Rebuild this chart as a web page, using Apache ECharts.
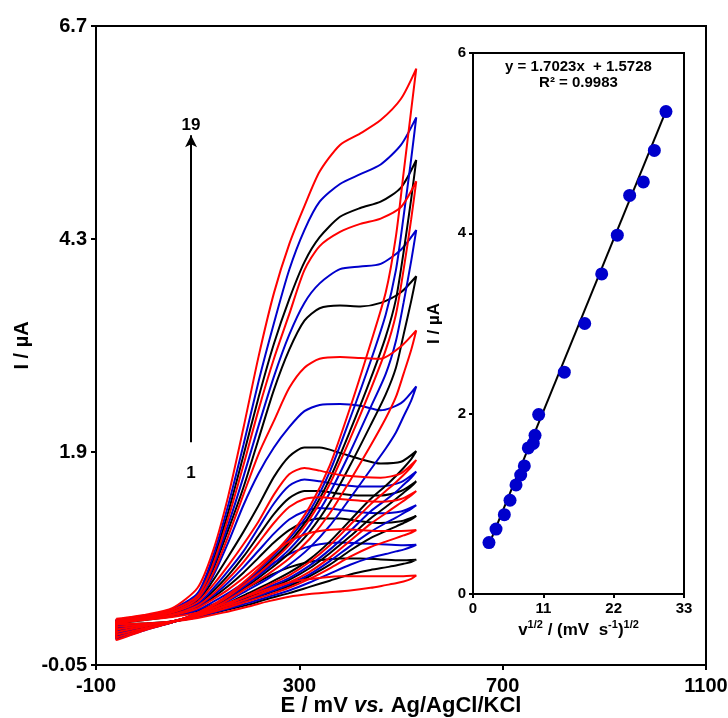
<!DOCTYPE html>
<html>
<head>
<meta charset="utf-8">
<script src="https://cdn.jsdelivr.net/npm/echarts@6/dist/echarts.min.js"></script>
<style>
html,body{margin:0;padding:0;background:#fff;}
#chart{width:728px;height:718px;}
</style>
</head>
<body>
<div id="chart"></div>
<script>
// ---------- main CV plot data ----------
const yTickLabels = ['-0.05', '1.9', '4.3', '6.7'];
const xTickLabels = ['-100', '300', '700', '1100'];
const curveColors = ['#FF0000', '#000000', '#0000CC'];

// potentials of forward (anodic) branch and reverse branch (mV)
const fwdE = [-60, 0, 50, 100, 130, 160, 190, 220, 250, 280, 310, 340, 380, 420, 460, 500, 530];
const revE = [520, 505, 490, 470, 440, 400, 360, 320, 280, 240, 200, 150, 100, 50, 0, -60];

// currents (µA) of forward branch, curve 1..19
const fwdI = [
  [-0.03,0.01,0.04,0.09,0.14,0.20,0.26,0.32,0.38,0.43,0.46,0.48,0.50,0.50,0.50,0.50,0.508],
  [-0.03,0.01,0.05,0.11,0.18,0.26,0.35,0.44,0.53,0.60,0.65,0.68,0.70,0.70,0.69,0.68,0.687],
  [-0.03,0.02,0.05,0.12,0.21,0.31,0.42,0.53,0.65,0.75,0.82,0.86,0.88,0.87,0.86,0.85,0.855],
  [-0.03,0.02,0.06,0.14,0.24,0.35,0.48,0.62,0.77,0.89,0.97,1.01,1.03,1.02,1.01,1.01,1.02],
  [-0.03,0.02,0.06,0.15,0.26,0.39,0.54,0.71,0.88,1.02,1.11,1.15,1.15,1.12,1.10,1.12,1.18],
  [-0.02,0.03,0.07,0.16,0.28,0.43,0.60,0.79,0.98,1.14,1.23,1.27,1.25,1.22,1.21,1.23,1.30],
  [-0.02,0.03,0.07,0.17,0.30,0.47,0.66,0.88,1.10,1.28,1.37,1.39,1.37,1.35,1.34,1.37,1.46],
  [-0.02,0.03,0.08,0.18,0.33,0.51,0.72,0.96,1.20,1.38,1.46,1.46,1.43,1.41,1.41,1.46,1.57],
  [-0.02,0.03,0.08,0.19,0.36,0.56,0.78,1.05,1.32,1.52,1.59,1.57,1.53,1.51,1.51,1.56,1.68],
  [-0.01,0.04,0.09,0.21,0.40,0.62,0.86,1.12,1.42,1.65,1.72,1.69,1.64,1.62,1.61,1.66,1.81],
  [-0.01,0.04,0.09,0.22,0.45,0.72,1.00,1.30,1.62,1.85,1.95,1.95,1.89,1.82,1.77,1.79,1.91],
  [-0.01,0.04,0.10,0.24,0.50,0.88,1.30,1.66,1.95,2.18,2.36,2.43,2.44,2.42,2.37,2.45,2.64],
  [0.00,0.04,0.10,0.25,0.53,0.95,1.42,1.88,2.25,2.62,2.85,2.95,2.97,2.96,2.95,3.09,3.27],
  [0.00,0.05,0.11,0.26,0.57,1.02,1.50,2.05,2.60,3.05,3.38,3.52,3.55,3.54,3.58,3.70,3.88],
  [0.00,0.05,0.11,0.27,0.60,1.08,1.62,2.20,2.75,3.22,3.58,3.80,3.96,3.99,4.02,4.18,4.40],
  [0.00,0.05,0.12,0.28,0.63,1.15,1.75,2.38,2.95,3.45,3.95,4.22,4.38,4.47,4.53,4.66,4.95],
  [0.01,0.06,0.12,0.29,0.67,1.22,1.86,2.52,3.12,3.62,4.04,4.32,4.55,4.65,4.72,4.88,5.19],
  [0.01,0.06,0.13,0.31,0.72,1.30,1.98,2.70,3.35,3.95,4.40,4.72,4.92,5.03,5.14,5.36,5.67],
  [0.02,0.07,0.14,0.37,0.78,1.40,2.17,2.98,3.69,4.24,4.67,5.06,5.36,5.49,5.64,5.88,6.22]
];

// currents (µA) of reverse branch, curve 1..19
const revI = [
  [0.47,0.44,0.42,0.40,0.37,0.34,0.32,0.30,0.27,0.22,0.16,0.09,0.03,-0.01,-0.03,-0.04],
  [0.66,0.64,0.62,0.60,0.57,0.52,0.45,0.38,0.31,0.25,0.18,0.11,0.04,-0.01,-0.03,-0.05],
  [0.83,0.80,0.78,0.75,0.71,0.63,0.53,0.43,0.34,0.27,0.20,0.12,0.04,-0.01,-0.04,-0.06],
  [0.99,0.96,0.93,0.89,0.83,0.72,0.59,0.47,0.37,0.29,0.22,0.13,0.05,-0.01,-0.04,-0.07],
  [1.14,1.10,1.06,1.01,0.93,0.79,0.63,0.50,0.39,0.31,0.23,0.14,0.05,-0.01,-0.05,-0.08],
  [1.26,1.21,1.16,1.10,1.00,0.84,0.67,0.52,0.41,0.32,0.24,0.14,0.05,-0.01,-0.05,-0.09],
  [1.41,1.35,1.29,1.21,1.09,0.90,0.71,0.55,0.43,0.34,0.25,0.15,0.06,-0.01,-0.05,-0.10],
  [1.51,1.44,1.37,1.28,1.15,0.95,0.76,0.59,0.46,0.36,0.26,0.15,0.06,-0.01,-0.06,-0.11],
  [1.61,1.53,1.45,1.36,1.23,1.01,0.80,0.62,0.48,0.38,0.28,0.16,0.06,-0.01,-0.06,-0.12],
  [1.73,1.64,1.56,1.46,1.31,1.08,0.85,0.66,0.51,0.40,0.29,0.16,0.06,-0.01,-0.06,-0.13],
  [1.82,1.72,1.63,1.52,1.37,1.13,0.89,0.69,0.54,0.42,0.31,0.17,0.07,-0.01,-0.07,-0.14],
  [2.48,2.30,2.12,1.94,1.70,1.38,1.07,0.82,0.63,0.48,0.35,0.19,0.07,-0.01,-0.07,-0.15],
  [3.05,2.78,2.52,2.28,1.97,1.58,1.21,0.92,0.70,0.53,0.38,0.20,0.07,-0.01,-0.08,-0.16],
  [3.60,3.22,2.85,2.55,2.20,1.75,1.33,1.00,0.76,0.57,0.40,0.21,0.08,-0.02,-0.08,-0.17],
  [4.05,3.58,3.15,2.78,2.40,1.90,1.44,1.07,0.80,0.60,0.42,0.22,0.08,-0.02,-0.09,-0.18],
  [4.52,3.95,3.45,3.05,2.60,2.05,1.54,1.14,0.85,0.63,0.44,0.23,0.08,-0.02,-0.09,-0.19],
  [4.75,4.15,3.62,3.20,2.72,2.14,1.60,1.18,0.88,0.65,0.45,0.23,0.08,-0.02,-0.09,-0.20],
  [5.20,4.55,3.95,3.45,2.92,2.28,1.68,1.23,0.92,0.68,0.46,0.24,0.09,-0.02,-0.10,-0.21],
  [5.75,5.04,4.33,3.70,3.12,2.40,1.75,1.28,0.95,0.70,0.48,0.25,0.09,-0.02,-0.10,-0.22]
];

// arrow annotation (1 -> 19)
const arrowE = 87;
const arrowFrom = 2.01;
const arrowTo = 5.47;
const arrowLabels = [[87, 5.58, '19'], [87, 1.66, '1']];

// ---------- inset data ----------
const sqrtRate = [2.50, 3.60, 4.90, 5.79, 6.73, 7.46, 8.03, 8.65, 9.43, 9.70, 10.27, 14.28, 17.47, 20.13, 22.57, 24.50, 26.64, 28.36, 30.18];
const peakCurrent = [0.57, 0.72, 0.88, 1.04, 1.21, 1.32, 1.42, 1.62, 1.67, 1.76, 1.99, 2.46, 3.00, 3.55, 3.98, 4.42, 4.57, 4.92, 5.35];
const trendX = [2.4, 30.2];
const trendY = [0.53, 5.36];
const insetXTicks = ['0', '11', '22', '33'];
const insetYTicks = ['0', '2', '4', '6'];
const eqText = 'y = 1.7023x  + 1.5728';
const r2Text = 'R² = 0.9983';
const eqPos = [16.5, 5.85];
const r2Pos = [16.5, 5.67];

// ---------- build ----------
const FONT = '"Liberation Sans", Arial, sans-serif';
const yMin = -0.5, yMax = 6.7, yInt = 2.4;
const xMin = -100, xMax = 1100, xInt = 400;

const series = [];
for (let k = 0; k < fwdI.length; k++) {
  const pts = [];
  for (let i = 0; i < fwdE.length; i++) pts.push([fwdE[i], fwdI[k][i]]);
  for (let i = 0; i < revE.length; i++) pts.push([revE[i], revI[k][i]]);
  pts.push([fwdE[0], fwdI[k][0]]);
  series.push({
    type: 'line', xAxisIndex: 0, yAxisIndex: 0, data: pts,
    showSymbol: false, symbol: 'none', smooth: 0.25,
    lineStyle: { color: curveColors[k % 3], width: 2 },
    z: 2 + (k % 3 === 0 ? 1 : 0)
  });
}
series.push({
  type: 'line', xAxisIndex: 0, yAxisIndex: 0, data: [], symbol: 'none',
  markLine: {
    silent: true, animation: false,
    symbol: ['none', 'arrow'], symbolSize: [9, 12],
    lineStyle: { color: '#000', width: 2, type: 'solid' },
    label: { show: false },
    data: [[{ coord: [arrowE, arrowFrom] }, { coord: [arrowE, arrowTo] }]]
  }
});
// inset
series.push({
  type: 'line', xAxisIndex: 1, yAxisIndex: 1,
  data: trendX.map((x, i) => [x, trendY[i]]),
  symbol: 'none', lineStyle: { color: '#000', width: 2 }, z: 5
});
series.push({
  type: 'scatter', xAxisIndex: 1, yAxisIndex: 1,
  data: sqrtRate.map((x, i) => [x, peakCurrent[i]]),
  symbolSize: 13, itemStyle: { color: '#0000CC', opacity: 1 }, z: 6
});

const axisBase = {
  splitLine: { show: false },
  nameMoveOverlap: false,
  axisLine: { onZero: false, lineStyle: { color: '#000', width: 2 } }
};

const chart = echarts.init(document.getElementById('chart'), null, { renderer: 'canvas' });
chart.setOption({
  animation: false,
  backgroundColor: '#fff',
  grid: [
    { left: 96, top: 26, right: 22, bottom: 53, show: true, borderColor: '#000', borderWidth: 2,
      backgroundColor: '#fff', containLabel: false, outerBoundsMode: 'none' },
    { left: 473, top: 53, right: 44, bottom: 124, show: true, borderColor: '#000', borderWidth: 2,
      backgroundColor: '#fff', containLabel: false, outerBoundsMode: 'none' }
  ],
  xAxis: [
    Object.assign({}, axisBase, {
      type: 'value', gridIndex: 0, min: xMin, max: xMax, interval: xInt,
      axisTick: { inside: false, length: 5, lineStyle: { color: '#000', width: 2 } },
      axisLabel: { margin: 11, color: '#000', fontFamily: FONT, fontWeight: 'bold', fontSize: 20,
        formatter: v => xTickLabels[Math.round((v - xMin) / xInt)] },
      name: '{b|E / mV }{i|vs.}{b| Ag/AgCl/KCl}', nameLocation: 'middle', nameGap: 30,
      nameTextStyle: { rich: {
        b: { fontFamily: FONT, fontWeight: 'bold', fontSize: 22, color: '#000' },
        i: { fontFamily: FONT, fontWeight: 'bold', fontStyle: 'italic', fontSize: 22, color: '#000' }
      } }
    }),
    Object.assign({}, axisBase, {
      type: 'value', gridIndex: 1, min: 0, max: 33, interval: 11,
      axisTick: { inside: false, length: 4, lineStyle: { color: '#000', width: 2 } },
      axisLabel: { margin: 7, color: '#000', fontFamily: FONT, fontWeight: 'bold', fontSize: 15,
        formatter: v => insetXTicks[Math.round(v / 11)] },
      name: '{n|v}{s|1/2}{n| / (mV  s}{s|-1}{n|)}{s|1/2}', nameLocation: 'middle', nameGap: 25,
      nameTextStyle: { rich: {
        n: { fontFamily: FONT, fontWeight: 'bold', fontSize: 17, color: '#000', verticalAlign: 'bottom', lineHeight: 20 },
        s: { fontFamily: FONT, fontWeight: 'bold', fontSize: 11, color: '#000', verticalAlign: 'top', lineHeight: 20 }
      } }
    })
  ],
  yAxis: [
    Object.assign({}, axisBase, {
      type: 'value', gridIndex: 0, min: yMin, max: yMax, interval: yInt,
      axisTick: { inside: false, length: 5, lineStyle: { color: '#000', width: 2 } },
      axisLabel: { margin: 9, color: '#000', fontFamily: FONT, fontWeight: 'bold', fontSize: 20,
        formatter: v => yTickLabels[Math.round((v - yMin) / yInt)] },
      name: 'I / µA', nameLocation: 'middle', nameGap: 64, nameRotate: 90,
      nameTextStyle: { fontFamily: FONT, fontWeight: 'bold', fontSize: 20, color: '#000' }
    }),
    Object.assign({}, axisBase, {
      type: 'value', gridIndex: 1, min: 0, max: 6, interval: 2,
      axisTick: { inside: false, length: 4, lineStyle: { color: '#000', width: 2 } },
      axisLabel: { margin: 7, color: '#000', fontFamily: FONT, fontWeight: 'bold', fontSize: 15,
        formatter: v => insetYTicks[Math.round(v / 2)] },
      name: 'I / µA', nameLocation: 'middle', nameGap: 30, nameRotate: 90,
      nameTextStyle: { fontFamily: FONT, fontWeight: 'bold', fontSize: 17, color: '#000' }
    })
  ],
  series: series
});

// text annotations placed through the axes' own coordinate conversion
const gEq = chart.convertToPixel({ gridIndex: 1 }, eqPos);
const gR2 = chart.convertToPixel({ gridIndex: 1 }, r2Pos);
const graphics = [
  { type: 'text', x: gEq[0], y: gEq[1], z: 100,
    style: { text: eqText, fontFamily: FONT, fontWeight: 'bold', fontSize: 15, fill: '#000', align: 'center', verticalAlign: 'middle' } },
  { type: 'text', x: gR2[0], y: gR2[1], z: 100,
    style: { text: r2Text, fontFamily: FONT, fontWeight: 'bold', fontSize: 15, fill: '#000', align: 'center', verticalAlign: 'middle' } }
];
arrowLabels.forEach(a => {
  const p = chart.convertToPixel({ gridIndex: 0 }, [a[0], a[1]]);
  graphics.push({ type: 'text', x: p[0], y: p[1], z: 100,
    style: { text: a[2], fontFamily: FONT, fontWeight: 'bold', fontSize: 17, fill: '#000', align: 'center', verticalAlign: 'middle' } });
});
chart.setOption({ graphic: graphics });
</script>
</body>
</html>
